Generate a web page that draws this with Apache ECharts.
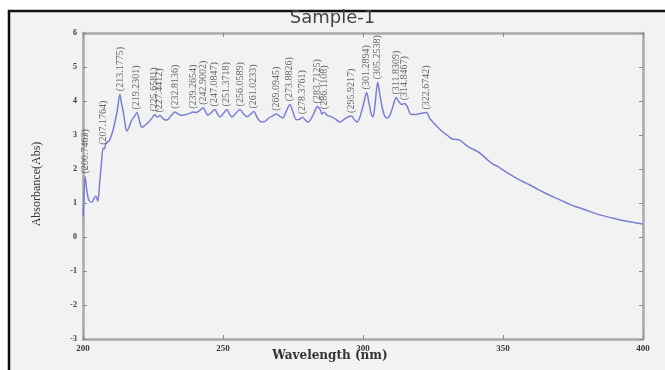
<!DOCTYPE html>
<html>
<head>
<meta charset="utf-8">
<script src="https://cdn.jsdelivr.net/npm/echarts@6/dist/echarts.min.js"></script>
<style>
  html, body { margin: 0; padding: 0; background: #ffffff; }
  #chart { width: 665px; height: 370px; }
</style>
</head>
<body>
<div id="chart"></div>
<script>
// Absorbance spectrum of Sample-1, wavelength in nm
const wavelength = [
  200.0, 200.3, 200.7463, 201.4, 202.1, 203.2, 204.0, 204.6, 205.3, 205.9,
  206.5, 207.1764, 207.6, 208.3, 209.3, 210.2, 210.9, 211.6, 212.3, 213.1775,
  213.7, 214.3, 214.9, 215.6, 216.3, 217.3, 218.4, 219.2301, 220.1, 221.0,
  222.0, 223.2, 224.5, 225.6581, 226.5, 227.4412, 228.4, 229.5, 230.4, 231.6,
  232.8136, 233.9, 235.1, 236.6, 237.9, 239.2654, 240.4, 241.6, 242.9002, 243.8,
  244.6, 245.8, 247.0847, 248.0, 248.9, 250.2, 251.3718, 252.3, 253.2, 254.6,
  256.0589, 257.3, 258.6, 259.7, 261.0233, 262.3, 263.8, 265.0, 266.4, 267.7,
  269.0945, 270.3, 271.4, 272.6, 273.8826, 274.9, 276.2, 277.3, 278.3761, 279.4,
  280.4, 281.6, 282.7, 283.7125, 284.9, 285.3, 286.1108, 287.2, 288.6, 290.2,
  291.7, 293.1, 294.6, 295.9217, 297.0, 297.9, 299.0, 300.3, 301.2894, 302.1,
  303.0, 303.6, 304.3, 305.2538, 306.0, 306.9, 307.8, 308.8, 309.8, 310.9,
  311.8309, 312.8, 313.9, 314.8467, 315.9, 316.9, 318.3, 319.8, 321.0, 322.6742,
  323.9, 325.3, 326.8, 328.6, 330.4, 331.9, 333.3, 334.5, 335.7, 337.5,
  339.3, 341.2, 343.0, 344.6, 346.1, 348.2, 350.2, 352.5, 355.4, 357.8,
  359.6, 362.5, 365.3, 367.9, 371.0, 373.8, 376.4, 379.3, 382.0, 384.6,
  388.4, 391.8, 395.9, 400.0
];
const absorbance = [
  0.60, 1.10, 1.78, 1.35, 1.08, 1.02, 1.15, 1.20, 1.05, 1.55,
  2.10, 2.62, 2.58, 2.78, 2.82, 3.00, 3.20, 3.45, 3.75, 4.20,
  3.95, 3.72, 3.40, 3.12, 3.20, 3.42, 3.55, 3.66, 3.45, 3.22,
  3.28, 3.36, 3.48, 3.60, 3.52, 3.57, 3.50, 3.44, 3.46, 3.58,
  3.68, 3.62, 3.58, 3.60, 3.63, 3.68, 3.66, 3.72, 3.80, 3.68,
  3.58, 3.66, 3.75, 3.62, 3.53, 3.64, 3.75, 3.62, 3.53, 3.64,
  3.75, 3.62, 3.54, 3.60, 3.69, 3.50, 3.38, 3.40, 3.50, 3.56,
  3.62, 3.55, 3.50, 3.70, 3.90, 3.70, 3.45, 3.46, 3.52, 3.44,
  3.38, 3.50, 3.68, 3.84, 3.72, 3.62, 3.67, 3.58, 3.54, 3.47,
  3.38, 3.45, 3.53, 3.56, 3.44, 3.38, 3.55, 3.95, 4.25, 3.95,
  3.60, 3.53, 3.90, 4.55, 4.20, 3.80, 3.55, 3.50, 3.62, 3.90,
  4.10, 3.98, 3.90, 3.93, 3.82, 3.62, 3.60, 3.62, 3.64, 3.66,
  3.48, 3.35, 3.22, 3.08, 2.97, 2.88, 2.87, 2.85, 2.78, 2.66,
  2.58, 2.50, 2.38, 2.26, 2.16, 2.07, 1.96, 1.84, 1.70, 1.60,
  1.53, 1.40, 1.28, 1.18, 1.07, 0.96, 0.88, 0.80, 0.72, 0.65,
  0.57, 0.50, 0.44, 0.38
];
// Wavelengths of the annotated peaks
const peakWavelengths = [
  200.7463, 207.1764, 213.1775, 219.2301, 225.6581, 227.4412, 232.8136, 239.2654,
  242.9002, 247.0847, 251.3718, 256.0589, 261.0233, 269.0945, 273.8826, 278.3761,
  283.7125, 286.1108, 295.9217, 301.2894, 305.2538, 311.8309, 314.8467, 322.6742
];
const xTicks = [200, 250, 300, 350, 400];
const yTicks = [-3, -2, -1, 0, 1, 2, 3, 4, 5, 6];

const spectrum = wavelength.map((w, i) => [w, absorbance[i]]);
const peaks = peakWavelengths.map(w => [w, absorbance[wavelength.indexOf(w)]]);

const axisGray = '#a9a9a9';
const textGray = '#3a3a3a';
const serif = '"Liberation Serif", "DejaVu Serif", serif';

function boxAxis(pos, isX, showLabels) {
  const ticks = isX ? xTicks : yTicks;
  return {
    type: 'value',
    position: pos,
    min: ticks[0],
    max: ticks[ticks.length - 1],
    interval: ticks[1] - ticks[0],
    axisLine: { show: true, onZero: false, lineStyle: { color: axisGray, width: 2.5 } },
    axisTick: { show: true, inside: true, length: 4, lineStyle: { color: '#888', width: 1 } },
    axisLabel: {
      show: showLabels,
      color: textGray,
      fontFamily: serif,
      fontWeight: 'bold',
      fontSize: isX ? 9 : 8,
      margin: isX ? 5 : 6
    },
    splitLine: { show: false }
  };
}

const chart = echarts.init(document.getElementById('chart'), null, { renderer: 'canvas' });
chart.setOption({
  backgroundColor: '#ffffff',
  animation: false,
  grid: { left: 83, right: 22, top: 33, bottom: 31, containLabel: false },
  xAxis: [boxAxis('bottom', true, true), boxAxis('top', true, false)],
  yAxis: [boxAxis('left', false, true), boxAxis('right', false, false)],
  graphic: [
    {
      type: 'rect', z: -100, silent: true,
      shape: { x: 9, y: 11, width: 700, height: 400 },
      style: { fill: '#f2f2f2', stroke: '#111111', lineWidth: 2.5 }
    },
    {
      type: 'text', left: 'center', top: 9, z: 10,
      style: { text: 'Sample-1', fill: '#444444', font: '18px "DejaVu Sans", sans-serif' }
    },
    {
      type: 'text', z: 10, x: 330, y: 356,
      style: {
        text: 'Wavelength (nm)', fill: '#333333',
        font: 'bold 12px "DejaVu Serif", serif',
        align: 'center', verticalAlign: 'middle'
      }
    },
    {
      type: 'text', z: 10, x: 37, y: 184, rotation: Math.PI / 2,
      style: {
        text: 'Absorbance(Abs)', fill: '#333333',
        font: '12px "Liberation Serif", serif',
        align: 'center', verticalAlign: 'middle'
      }
    }
  ],
  series: [
    {
      type: 'line',
      data: spectrum,
      xAxisIndex: 0, yAxisIndex: 0,
      showSymbol: false,
      smooth: 0.3,
      lineStyle: { color: '#7b7fd4', width: 1.5 },
      z: 3
    },
    {
      type: 'scatter',
      data: peaks,
      xAxisIndex: 0, yAxisIndex: 0,
      symbolSize: 0.1,
      itemStyle: { color: 'rgba(0,0,0,0)' },
      label: {
        show: true,
        position: 'top',
        distance: 3,
        rotate: 90,
        align: 'left',
        verticalAlign: 'middle',
        fontFamily: serif,
        fontSize: 10,
        color: '#454545',
        formatter: p => '(' + p.value[0].toFixed(4) + ')'
      },
      z: 4
    }
  ]
});
</script>
</body>
</html>
